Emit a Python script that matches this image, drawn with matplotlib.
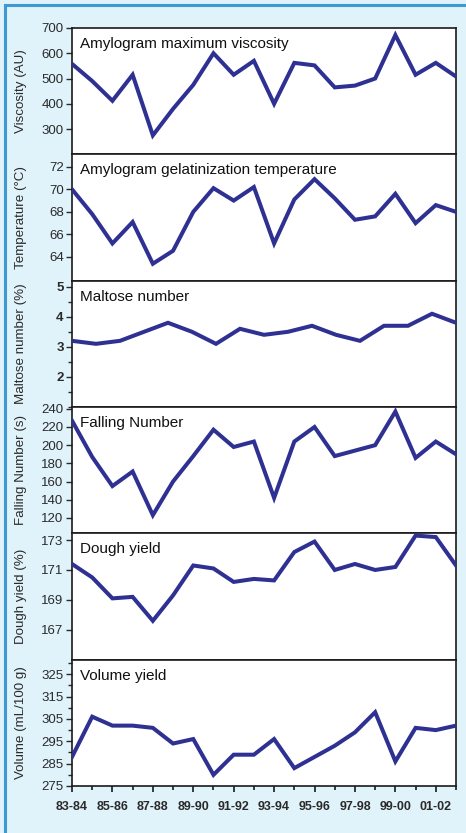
import numpy as np
import matplotlib.pyplot as plt
from matplotlib.lines import Line2D
from matplotlib.ticker import MultipleLocator

plt.rcParams['font.family'] = ['Liberation Sans', 'DejaVu Sans']

# seasons 83-84 ... 02-03
seasons = ["83-84", "84-85", "85-86", "86-87", "87-88", "88-89", "89-90", "90-91",
           "91-92", "92-93", "93-94", "94-95", "95-96", "96-97", "97-98", "98-99",
           "99-00", "00-01", "01-02", "02-03"]

viscosity = [558, 490, 412, 515, 275, 380, 475, 600, 515, 570,
             400, 562, 552, 465, 472, 500, 672, 515, 562, 508]
temperature = [70.0, 67.8, 65.2, 67.1, 63.4, 64.55, 68.0, 70.1, 69.0, 70.2,
               65.2, 69.1, 70.9, 69.2, 67.3, 67.6, 69.6, 67.0, 68.6, 68.0]
# maltose number series has fewer points spread across the same width
maltose = [3.2, 3.1, 3.2, 3.5, 3.8, 3.5, 3.1, 3.6, 3.4, 3.5,
           3.7, 3.4, 3.2, 3.7, 3.7, 4.1, 3.8]
falling = [227, 187, 155, 171, 123, 160, 188, 217, 198, 204,
           142, 204, 220, 188, 194, 200, 237, 186, 204, 190]
dough = [171.4, 170.5, 169.1, 169.2, 167.6, 169.3, 171.3, 171.1, 170.2, 170.4,
         170.3, 172.2, 172.9, 171.0, 171.4, 171.0, 171.2, 173.3, 173.2, 171.3]
volume = [288, 306, 302, 302, 301, 294, 296, 280, 289, 289,
          296, 283, 288, 293, 299, 308, 286, 301, 300, 302]

titles = ["Amylogram maximum viscosity", "Amylogram gelatinization temperature",
          "Maltose number", "Falling Number", "Dough yield", "Volume yield"]
ylabels = ["Viscosity (AU)", "Temperature (°C)", "Maltose number (%)",
           "Falling Number (s)", "Dough yield (%)", "Volume (mL/100 g)"]
series = [viscosity, temperature, maltose, falling, dough, volume]
ylims = [(200, 700), (61.9, 73.1), (1.0, 5.2), (103, 242), (165, 173.45), (275, 331.5)]
yticks = [[300, 400, 500, 600, 700], [64, 66, 68, 70, 72], [2, 3, 4, 5],
          [120, 140, 160, 180, 200, 220, 240], [167, 169, 171, 173],
          [275, 285, 295, 305, 315, 325]]
yminor = [None, None, 0.5, None, None, 5]

W, H = 466, 833
fig = plt.figure(figsize=(W / 100, H / 100), dpi=100)
fig.patch.set_facecolor('#e0f2fa')
# blue frame, only top and left edges are visible in the source
border = '#3d9ad0'
fig.lines.append(Line2D([5 / W, 5 / W], [0, 1 - 5 / H], transform=fig.transFigure,
                        color=border, lw=2.2))
fig.lines.append(Line2D([5 / W, 1], [1 - 5 / H, 1 - 5 / H], transform=fig.transFigure,
                        color=border, lw=2.2))

line_col = '#2e3192'
text_col = '#2a2a2a'
left, right = 72 / W, 456 / W
top_px, bot_px = 28, 786
ph = (bot_px - top_px) / 6

axes = []
for k in range(6):
    y0 = 1 - (top_px + ph * (k + 1)) / H
    ax = fig.add_axes([left, y0, right - left, ph / H])
    ax.set_facecolor('white')
    vals = series[k]
    x = np.arange(len(vals))
    ax.plot(x, vals, color=line_col, lw=2.9, solid_joinstyle='miter', zorder=3)
    ax.set_xlim(0, len(vals) - 1)
    ax.set_ylim(*ylims[k])
    ax.set_yticks(yticks[k])
    if yminor[k]:
        ax.yaxis.set_minor_locator(MultipleLocator(yminor[k]))
    ax.tick_params(axis='y', direction='out', length=4, width=1, colors=text_col,
                   labelsize=9.5, pad=2)
    ax.tick_params(axis='y', which='minor', direction='out', length=3, width=1, colors=text_col)
    if k == 2:
        for lab in ax.get_yticklabels():
            lab.set_fontweight('bold')
    for sp in ax.spines.values():
        sp.set_color('#1a1a1a')
        sp.set_linewidth(1.2)
    ax.text(0.02, 0.93, titles[k], transform=ax.transAxes, ha='left', va='top',
            fontsize=11, color='#111111')
    ax.set_ylabel(ylabels[k], fontsize=9.6, color=text_col)
    ax.yaxis.set_label_coords(-0.118, 0.5)
    if k < 5:
        ax.set_xticks([])
    axes.append(ax)

bx = axes[-1]
bx.set_xticks(np.arange(0, len(seasons), 2))
bx.set_xticklabels(seasons[::2], fontweight='bold', fontsize=9, color=text_col)
bx.xaxis.set_minor_locator(MultipleLocator(1))
bx.tick_params(axis='x', direction='out', length=4, width=1.2, colors='#1a1a1a', pad=7)
bx.tick_params(axis='x', which='minor', direction='out', length=3, width=1.2, colors='#1a1a1a')
for lab in bx.get_xticklabels():
    lab.set_color(text_col)

fig.savefig('out.png', dpi=100, facecolor=fig.get_facecolor())
